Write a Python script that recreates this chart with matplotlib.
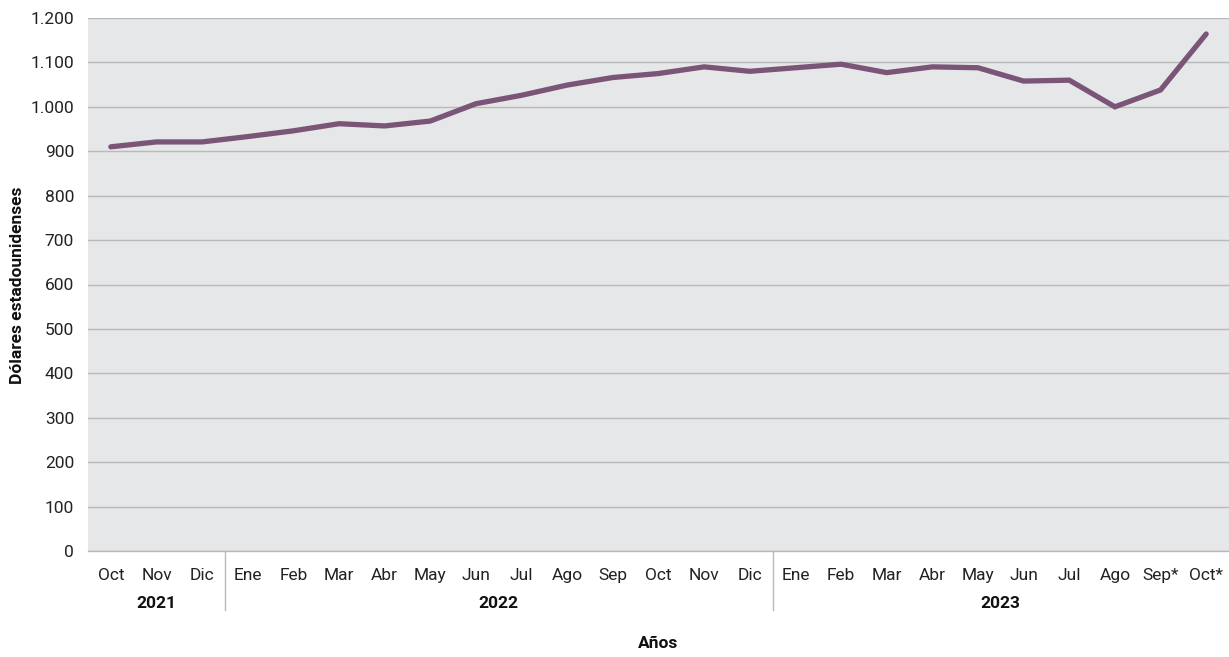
import matplotlib
matplotlib.use("Agg")
import matplotlib.pyplot as plt
from matplotlib.transforms import blended_transform_factory
from matplotlib.ticker import FuncFormatter

months = ["Oct", "Nov", "Dic", "Ene", "Feb", "Mar", "Abr", "May", "Jun", "Jul", "Ago", "Sep",
          "Oct", "Nov", "Dic", "Ene", "Feb", "Mar", "Abr", "May", "Jun", "Jul", "Ago", "Sep*", "Oct*"]
values = [910, 921, 921, 933, 946, 962, 957, 968, 1007, 1026, 1049, 1066,
          1075, 1090, 1080, 1088, 1096, 1077, 1090, 1088, 1058, 1060, 1000, 1038, 1164]
years = ["2021", "2022", "2023"]
year_counts = [3, 12, 10]
yticks = [0, 100, 200, 300, 400, 500, 600, 700, 800, 900, 1000, 1100, 1200]

FONT = ["Roboto", "DejaVu Sans"]
plt.rcParams["font.family"] = FONT

fig = plt.figure(figsize=(12.29, 6.57), dpi=100)
ax = fig.add_axes([88 / 1229, 1 - 551 / 657, 1 - 88 / 1229, (551 - 18) / 657])
ax.set_facecolor("#e6e7e8")

x = list(range(len(values)))
ax.plot(x, values, color="#7a5577", linewidth=3.8, solid_joinstyle="miter", solid_capstyle="round", zorder=3)

ax.set_xlim(-0.5, len(values) - 0.5)
ax.set_ylim(0, 1200)
ax.set_yticks(yticks)
ax.yaxis.set_major_formatter(FuncFormatter(lambda v, p: f"{int(v):,}".replace(",", ".")))
ax.grid(axis="y", color="#b9b9b9", linewidth=1.0, zorder=1)
ax.set_axisbelow(True)
for s in ["top", "right", "left"]:
    ax.spines[s].set_visible(False)
ax.spines["bottom"].set_color("#b9b9b9")
ax.spines["bottom"].set_linewidth(1.0)
ax.tick_params(axis="y", length=0, pad=10, labelsize=12.5, labelcolor="#222222")
ax.tick_params(axis="x", length=0, pad=12, labelsize=12.5, labelcolor="#222222")
ax.set_xticks(x)
ax.set_xticklabels(months)

trans = blended_transform_factory(ax.transData, ax.transAxes)
start = 0
for i, (yr, cnt) in enumerate(zip(years, year_counts)):
    center = start + (cnt - 1) / 2
    ax.text(center, -(604 - 551) / 533, yr, transform=trans, ha="center", va="center",
            fontsize=12.5, fontweight="bold", color="#111111")
    if i > 0:
        ax.plot([start - 0.5, start - 0.5], [0, -(610 - 551) / 533], transform=trans,
                color="#b9b9b9", linewidth=1.0, clip_on=False)
    start += cnt

ax.text(0.5, -(643 - 551) / 533, "Años", transform=ax.transAxes, ha="center", va="center",
        fontsize=12.5, fontweight="bold", color="#111111")
fig.text(18 / 1229, 1 - 285 / 657, "Dólares estadounidenses", rotation=90, ha="center", va="center",
         fontsize=12.5, fontweight="bold", color="#111111")

fig.savefig("out.png", dpi=100)
